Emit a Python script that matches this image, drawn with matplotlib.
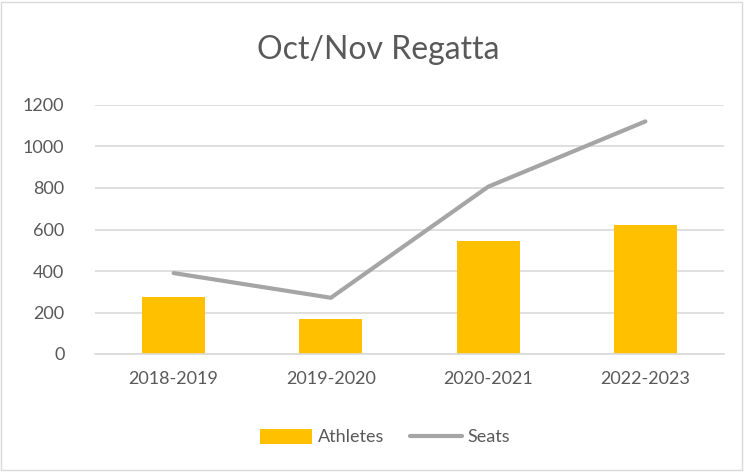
import matplotlib.pyplot as plt
import numpy as np
from matplotlib.patches import Rectangle

seasons = ['2018-2019', '2019-2020', '2020-2021', '2022-2023']
athletes = [273, 171, 545, 622]
seats = [390, 271, 806, 1121]

plt.rcParams['font.family'] = ['Lato', 'DejaVu Sans']

fig = plt.figure(figsize=(7.45, 4.74), dpi=100)
W, H = 745, 474
# plot area in pixels: x 95..724, y 105..354
ax = fig.add_axes([95 / W, 1 - 354 / H, (724 - 95) / W, (354 - 105) / H])

x = np.arange(len(seasons))
bars = ax.bar(x, athletes, width=0.4, color='#FFC000', label='Athletes', zorder=2)
line, = ax.plot(x, seats, color='#A5A5A5', lw=3.0, solid_capstyle='round',
                solid_joinstyle='round', label='Seats', zorder=3)

ax.set_xlim(-0.5, len(seasons) - 0.5)
ax.set_ylim(0, 1200)
ax.set_yticks(range(0, 1201, 200))
ax.set_xticks(x)
ax.set_xticklabels(seasons)
ax.grid(axis='y', color='#D9D9D9', lw=1.2, zorder=0)
ax.set_axisbelow(True)
for s in ['top', 'right', 'left']:
    ax.spines[s].set_visible(False)
ax.spines['bottom'].set_color('#D9D9D9')
ax.spines['bottom'].set_linewidth(1.2)
ax.tick_params(length=0, labelsize=13, colors='#595959', pad=12)
ax.tick_params(axis='y', pad=22)

fig.text(378 / W, 1 - 50 / H, 'Oct/Nov Regatta', ha='center', va='center',
         fontsize=23, color='#595959')

leg = fig.legend([bars, line], ['Athletes', 'Seats'], loc='center',
                 bbox_to_anchor=(385 / W, 1 - 437 / H), ncol=2,
                 frameon=False, fontsize=13, handlelength=2.9,
                 handleheight=0.95, columnspacing=1.4, handletextpad=0.3)
for t in leg.get_texts():
    t.set_color('#595959')

fig.patches.append(Rectangle((1 / W, 4 / H), 741 / W, 468 / H,
                             transform=fig.transFigure, fill=False,
                             edgecolor='#D9D9D9', lw=1))

fig.savefig('out.png', dpi=100)
